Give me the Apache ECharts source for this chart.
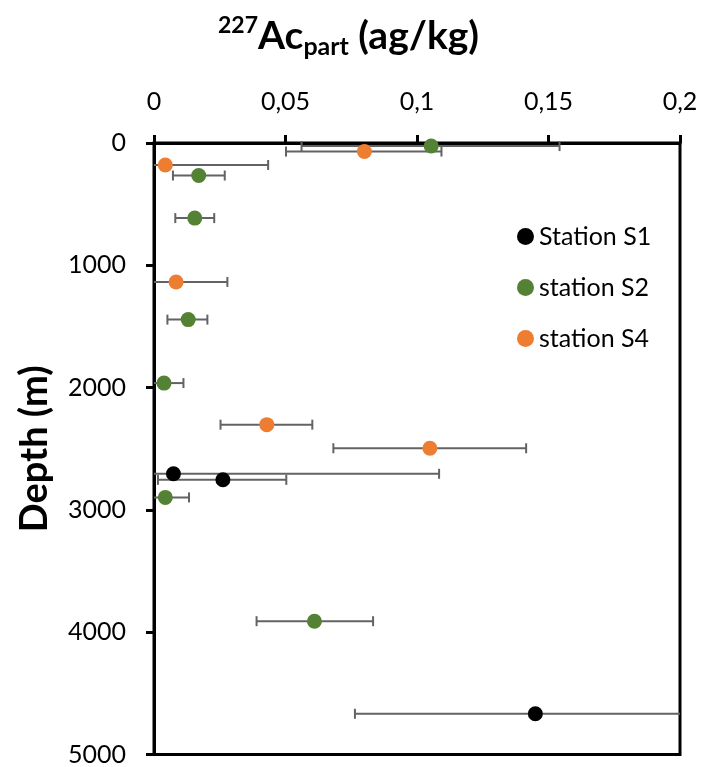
<!DOCTYPE html>
<html>
<head>
<meta charset="utf-8">
<script src="https://cdn.jsdelivr.net/npm/echarts@6/dist/echarts.min.js"></script>
<style>
html,body{margin:0;padding:0;background:#fff;}
#chart{width:704px;height:767px;}
</style>
</head>
<body>
<div id="chart"></div>
<script>
// ---- data (x = 227Ac_part in ag/kg, y = depth in m) ----
var seriesNames = ['Station S1', 'station S2', 'station S4'];
var s1Depth = [2705, 2754, 4667];
var s1Value = [0.0074, 0.0262, 0.1450];
var s1Low   = [-0.0936, 0.0015, 0.0764];
var s1High  = [0.1084, 0.0503, 0.2136];

var s2Depth = [25, 266, 614, 1444, 1963, 2898, 3910];
var s2Value = [0.1054, 0.0170, 0.0155, 0.0130, 0.0038, 0.0043, 0.0610];
var s2Low   = [0.0561, 0.0072, 0.0081, 0.0051, -0.0036, -0.0047, 0.0390];
var s2High  = [0.1542, 0.0269, 0.0229, 0.0203, 0.0112, 0.0133, 0.0833];

var s4Depth = [70, 180, 1136, 2303, 2496];
var s4Value = [0.0800, 0.0043, 0.0084, 0.0429, 0.1049];
var s4Low   = [0.0502, -0.0348, -0.0111, 0.0253, 0.0682];
var s4High  = [0.1093, 0.0434, 0.0279, 0.0602, 0.1415];

var xTickLabels = ['0', '0,05', '0,1', '0,15', '0,2'];
var yTickLabels = ['0', '1000', '2000', '3000', '4000', '5000'];

var colors = ['#000000', '#548235', '#ED7D31'];
var FONT = 'Lato';

function pts(depth, value) {
  return depth.map(function (d, i) { return [value[i], d]; });
}
function errs(depth, low, high) {
  return depth.map(function (d, i) { return [low[i], high[i], d]; });
}

function renderErr(params, api) {
  var cs = params.coordSys;
  var lo = api.coord([api.value(0), api.value(2)]);
  var hi = api.coord([api.value(1), api.value(2)]);
  var y = lo[1];
  var xmin = cs.x, xmax = cs.x + cs.width;
  var x1 = Math.max(lo[0], xmin), x2 = Math.min(hi[0], xmax);
  var capH = 5;
  var st = { stroke: '#636363', lineWidth: 2 };
  var children = [{ type: 'line', shape: { x1: x1, y1: y, x2: x2, y2: y }, style: st }];
  if (lo[0] >= xmin) children.push({ type: 'line', shape: { x1: lo[0], y1: y - capH, x2: lo[0], y2: y + capH }, style: st });
  if (hi[0] <= xmax) children.push({ type: 'line', shape: { x1: hi[0], y1: y - capH, x2: hi[0], y2: y + capH }, style: st });
  return { type: 'group', children: children };
}

var chart = echarts.init(document.getElementById('chart'), null, { renderer: 'canvas' });

var option = {
  backgroundColor: '#fff',
  animation: false,
  title: {
    text: '{sup|227}{main|Ac}{sub|part}{main| (ag/kg)}',
    left: 213,
    top: 9,
    textStyle: {
      rich: {
        sup: { fontFamily: FONT, fontWeight: 'bold', fontSize: 23, color: '#000', verticalAlign: 'top', padding: [0, 0, 16, 0] },
        main: { fontFamily: FONT, fontWeight: 'bold', fontSize: 39, color: '#000' },
        sub: { fontFamily: FONT, fontWeight: 'bold', fontSize: 25, color: '#000', padding: [20, 0, 0, 0] }
      }
    }
  },
  legend: {
    orient: 'vertical',
    left: 512,
    top: 219,
    itemGap: 26,
    itemWidth: 17,
    itemHeight: 17,
    icon: 'circle',
    data: seriesNames,
    textStyle: { fontFamily: FONT, fontSize: 25, color: '#000', padding: [0, 0, 0, 0] }
  },
  grid: {
    left: 154, right: 24, top: 143, bottom: 12,
    show: true, borderColor: '#000', borderWidth: 3, backgroundColor: 'transparent'
  },
  xAxis: {
    type: 'value',
    position: 'top',
    min: 0, max: 0.2, interval: 0.05,
    axisLine: { show: true, lineStyle: { color: '#000', width: 3 } },
    axisTick: { show: true, inside: false, length: 8, lineStyle: { color: '#000', width: 3 } },
    axisLabel: {
      margin: 29,
      fontFamily: FONT, fontSize: 25, color: '#000',
      formatter: function (v) { return xTickLabels[Math.round(v / 0.05)]; }
    },
    splitLine: { show: false }
  },
  yAxis: {
    type: 'value',
    inverse: true,
    min: 0, max: 5000, interval: 1000,
    name: 'Depth (m)',
    nameLocation: 'middle',
    nameGap: 100,
    nameTextStyle: { fontFamily: FONT, fontWeight: 'bold', fontSize: 38, color: '#000' },
    axisLine: { show: true, lineStyle: { color: '#000', width: 3 } },
    axisTick: { show: true, inside: false, length: 8, lineStyle: { color: '#000', width: 3 } },
    axisLabel: {
      margin: 28,
      fontFamily: FONT, fontSize: 25, color: '#000',
      formatter: function (v) { return yTickLabels[Math.round(v / 1000)]; }
    },
    splitLine: { show: false }
  },
  series: [
    { name: 'err1', type: 'custom', renderItem: renderErr, data: errs(s1Depth, s1Low, s1High), z: 1, silent: true },
    { name: 'err2', type: 'custom', renderItem: renderErr, data: errs(s2Depth, s2Low, s2High), z: 1, silent: true },
    { name: 'err4', type: 'custom', renderItem: renderErr, data: errs(s4Depth, s4Low, s4High), z: 1, silent: true },
    { name: seriesNames[0], type: 'scatter', data: pts(s1Depth, s1Value), symbolSize: 15, itemStyle: { color: colors[0], opacity: 1 }, z: 5 },
    { name: seriesNames[1], type: 'scatter', data: pts(s2Depth, s2Value), symbolSize: 15, itemStyle: { color: colors[1], opacity: 1 }, z: 5 },
    { name: seriesNames[2], type: 'scatter', data: pts(s4Depth, s4Value), symbolSize: 15, itemStyle: { color: colors[2], opacity: 1 }, z: 5 }
  ]
};
chart.setOption(option);
</script>
</body>
</html>
